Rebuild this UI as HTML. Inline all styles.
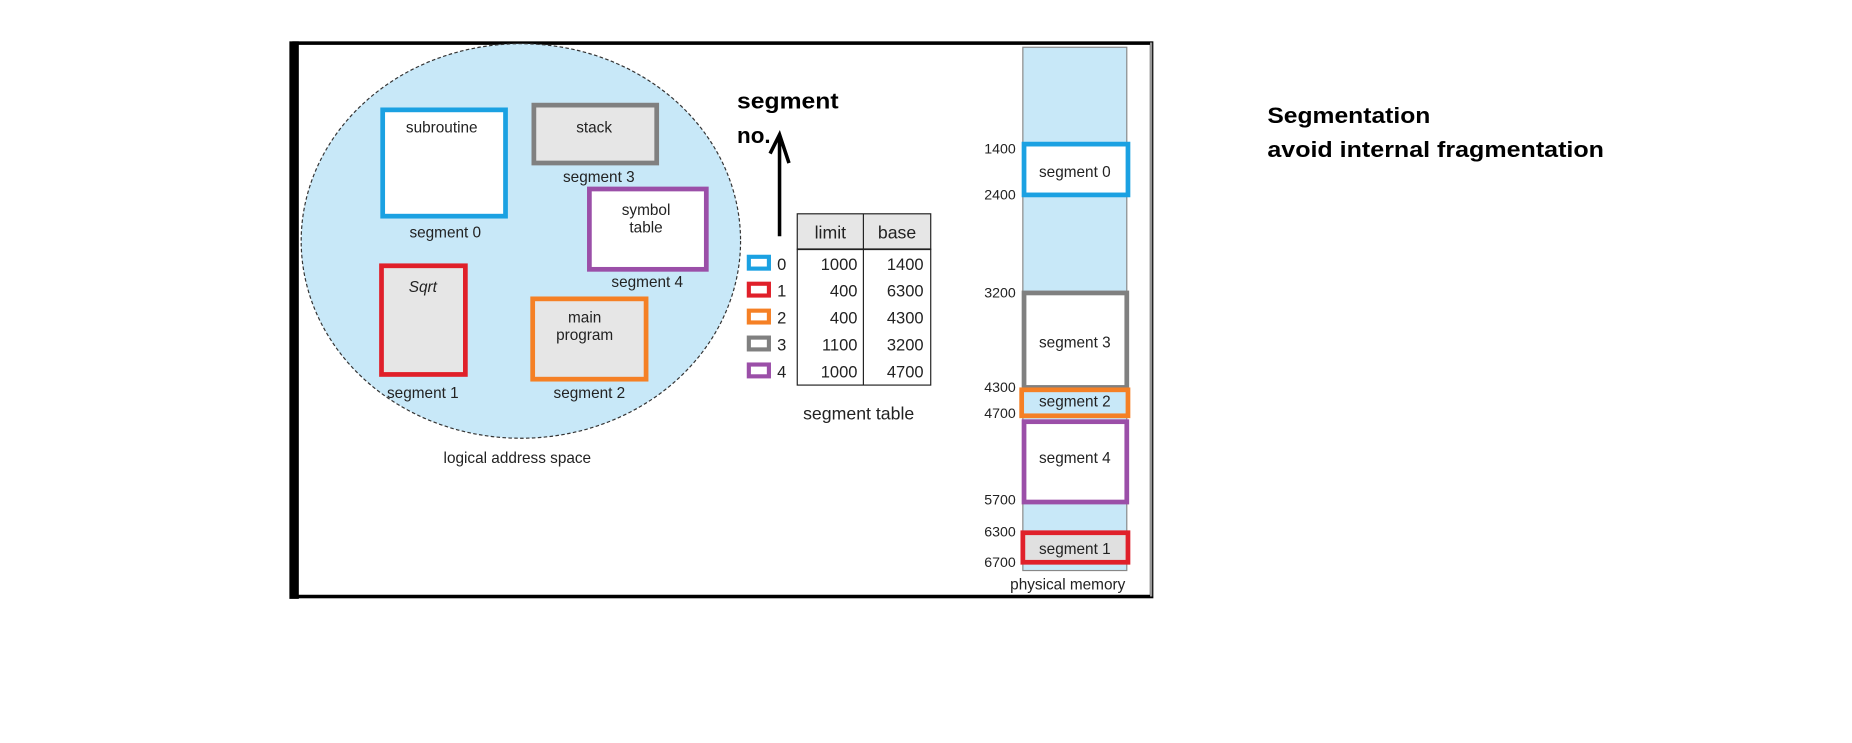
<!DOCTYPE html>
<html><head><meta charset="utf-8"><style>
html,body{margin:0;padding:0;background:#fff;}
svg{display:block;font-family:"Liberation Sans",sans-serif;}
</style></head><body>
<svg width="1852" height="743" viewBox="0 0 1568 629" preserveAspectRatio="none" xmlns="http://www.w3.org/2000/svg">
<rect width="1568" height="629" fill="#fff"/>
<g>
<rect x="249" y="36.5" width="726" height="468.5" fill="#fff" stroke="#000" stroke-width="3"/>
<line x1="975" y1="36" x2="975" y2="505" stroke="#fff" stroke-width="2"/>
<line x1="975.5" y1="36" x2="975.5" y2="505" stroke="#000" stroke-width="1"/>
<rect x="245" y="35" width="8" height="472" fill="#000"/>
</g>
<g>
<ellipse cx="441" cy="204" rx="186" ry="167" fill="#c8e8f8" stroke="#333" stroke-width="1" stroke-dasharray="3,2"/>
<rect x="324" y="93" width="104" height="90" fill="#fff" stroke="#1ba1e2" stroke-width="4"/>
<rect x="452" y="89" width="104" height="49" fill="#e6e6e6" stroke="#808080" stroke-width="4"/>
<rect x="499" y="160" width="99" height="68" fill="#fff" stroke="#9b4fa8" stroke-width="4"/>
<rect x="323" y="225" width="71" height="92" fill="#e6e6e6" stroke="#e0202a" stroke-width="4"/>
<rect x="451" y="253" width="96" height="68" fill="#e6e6e6" stroke="#f58025" stroke-width="4"/>
<g font-size="13" fill="#222" text-anchor="middle">
<text x="374" y="112">subroutine</text>
<text x="377" y="201">segment 0</text>
<text x="503" y="112">stack</text>
<text x="507" y="154">segment 3</text>
<text x="547" y="182">symbol</text>
<text x="547" y="197">table</text>
<text x="548" y="243">segment 4</text>
<text x="358" y="247" font-style="italic">Sqrt</text>
<text x="358" y="337">segment 1</text>
<text x="495" y="273">main</text>
<text x="495" y="288">program</text>
<text x="499" y="337">segment 2</text>
<text x="438" y="392">logical address space</text>
</g>
</g>
<g>
<text x="624" y="92" font-size="19" font-weight="bold" textLength="86" lengthAdjust="spacingAndGlyphs">segment</text>
<text x="624" y="121" font-size="19" font-weight="bold">no.</text>
<path d="M660 200 L660 115 M652 130 L660 114 L668 138" fill="none" stroke="#000" stroke-width="3"/>
</g>
<g id="segtable"></g>
<text x="727" y="355" font-size="15" text-anchor="middle" fill="#222">segment table</text>
<g>
<rect x="866" y="40" width="88" height="443" fill="#c8e8f8" stroke="#888" stroke-width="1"/>
<rect x="867" y="122" width="88" height="43" fill="#fff" stroke="#1ba1e2" stroke-width="4"/>
<rect x="867" y="248" width="87" height="80" fill="#fff" stroke="#808080" stroke-width="4"/>
<rect x="865" y="330" width="90" height="22" fill="#c8e8f8" stroke="#f58025" stroke-width="4"/>
<rect x="867" y="357" width="87" height="68" fill="#fff" stroke="#9b4fa8" stroke-width="4"/>
<rect x="866" y="451" width="89" height="25" fill="#e0e0e0" stroke="#e0202a" stroke-width="4"/>
<g font-size="13" fill="#222" text-anchor="middle">
<text x="910" y="150">segment 0</text>
<text x="910" y="294">segment 3</text>
<text x="910" y="344">segment 2</text>
<text x="910" y="392">segment 4</text>
<text x="910" y="469">segment 1</text>
<text x="904" y="499">physical memory</text>
</g>
<g font-size="12" fill="#222" text-anchor="end">
<text x="860" y="130">1400</text>
<text x="860" y="169">2400</text>
<text x="860" y="252">3200</text>
<text x="860" y="332">4300</text>
<text x="860" y="354">4700</text>
<text x="860" y="427">5700</text>
<text x="860" y="454">6300</text>
<text x="860" y="480">6700</text>
</g>
</g>
<g font-size="19" font-weight="bold" fill="#000">
<text x="1073" y="104" textLength="138" lengthAdjust="spacingAndGlyphs">Segmentation</text>
<text x="1073" y="133" textLength="285" lengthAdjust="spacingAndGlyphs">avoid internal fragmentation</text>
</g>
<script>
const segIds=[0,1,2,3,4];
const limits=[1000,400,400,1100,1000];
const bases=[1400,6300,4300,3200,4700];
const colors=['#1ba1e2','#e0202a','#f58025','#808080','#9b4fa8'];
const NS='http://www.w3.org/2000/svg';
const g=document.getElementById('segtable');
function mk(t,a,txt){const e=document.createElementNS(NS,t);for(const k in a)e.setAttribute(k,a[k]);if(txt!==undefined)e.textContent=txt;g.appendChild(e);return e;}
const x0=675,x1=731,x2=788,hy=181,ry=211,rh=22.8;
let e=mk('rect',{x:x0,y:hy,width:x2-x0,height:ry-hy,fill:'#e6e6e6',stroke:'#222','stroke-width':1});


e=mk('rect',{x:x0,y:ry,width:x2-x0,height:rh*segIds.length+1,fill:'#fff',stroke:'#222','stroke-width':1});


mk('line',{x1:x0,y1:ry,x2:x2,y2:ry,stroke:'#222','stroke-width':1.5});
mk('line',{x1:x1,y1:hy,x2:x1,y2:ry+rh*segIds.length+1,stroke:'#222','stroke-width':1});
e=mk('text',{x:(x0+x1)/2,y:hy+21,'font-size':15,'text-anchor':'middle',fill:'#222'},'limit');


e=mk('text',{x:(x1+x2)/2,y:hy+21,'font-size':15,'text-anchor':'middle',fill:'#222'},'base');


segIds.forEach((id,i)=>{
  const cy=ry+rh*i+rh/2;
  let r=mk('rect',{x:634,y:cy-5,width:17,height:10,fill:'#fff',stroke:colors[i],'stroke-width':3.5});
  
  
  let t=mk('text',{x:658,y:cy+6,'font-size':14,fill:'#222'},String(id));
  
  
  t=mk('text',{x:x1-5,y:cy+6,'font-size':14,'text-anchor':'end',fill:'#222'},String(limits[i]));
  
  
  t=mk('text',{x:x2-6,y:cy+6,'font-size':14,'text-anchor':'end',fill:'#222'},String(bases[i]));
  
  
});
</script>
</svg>
</body></html>
